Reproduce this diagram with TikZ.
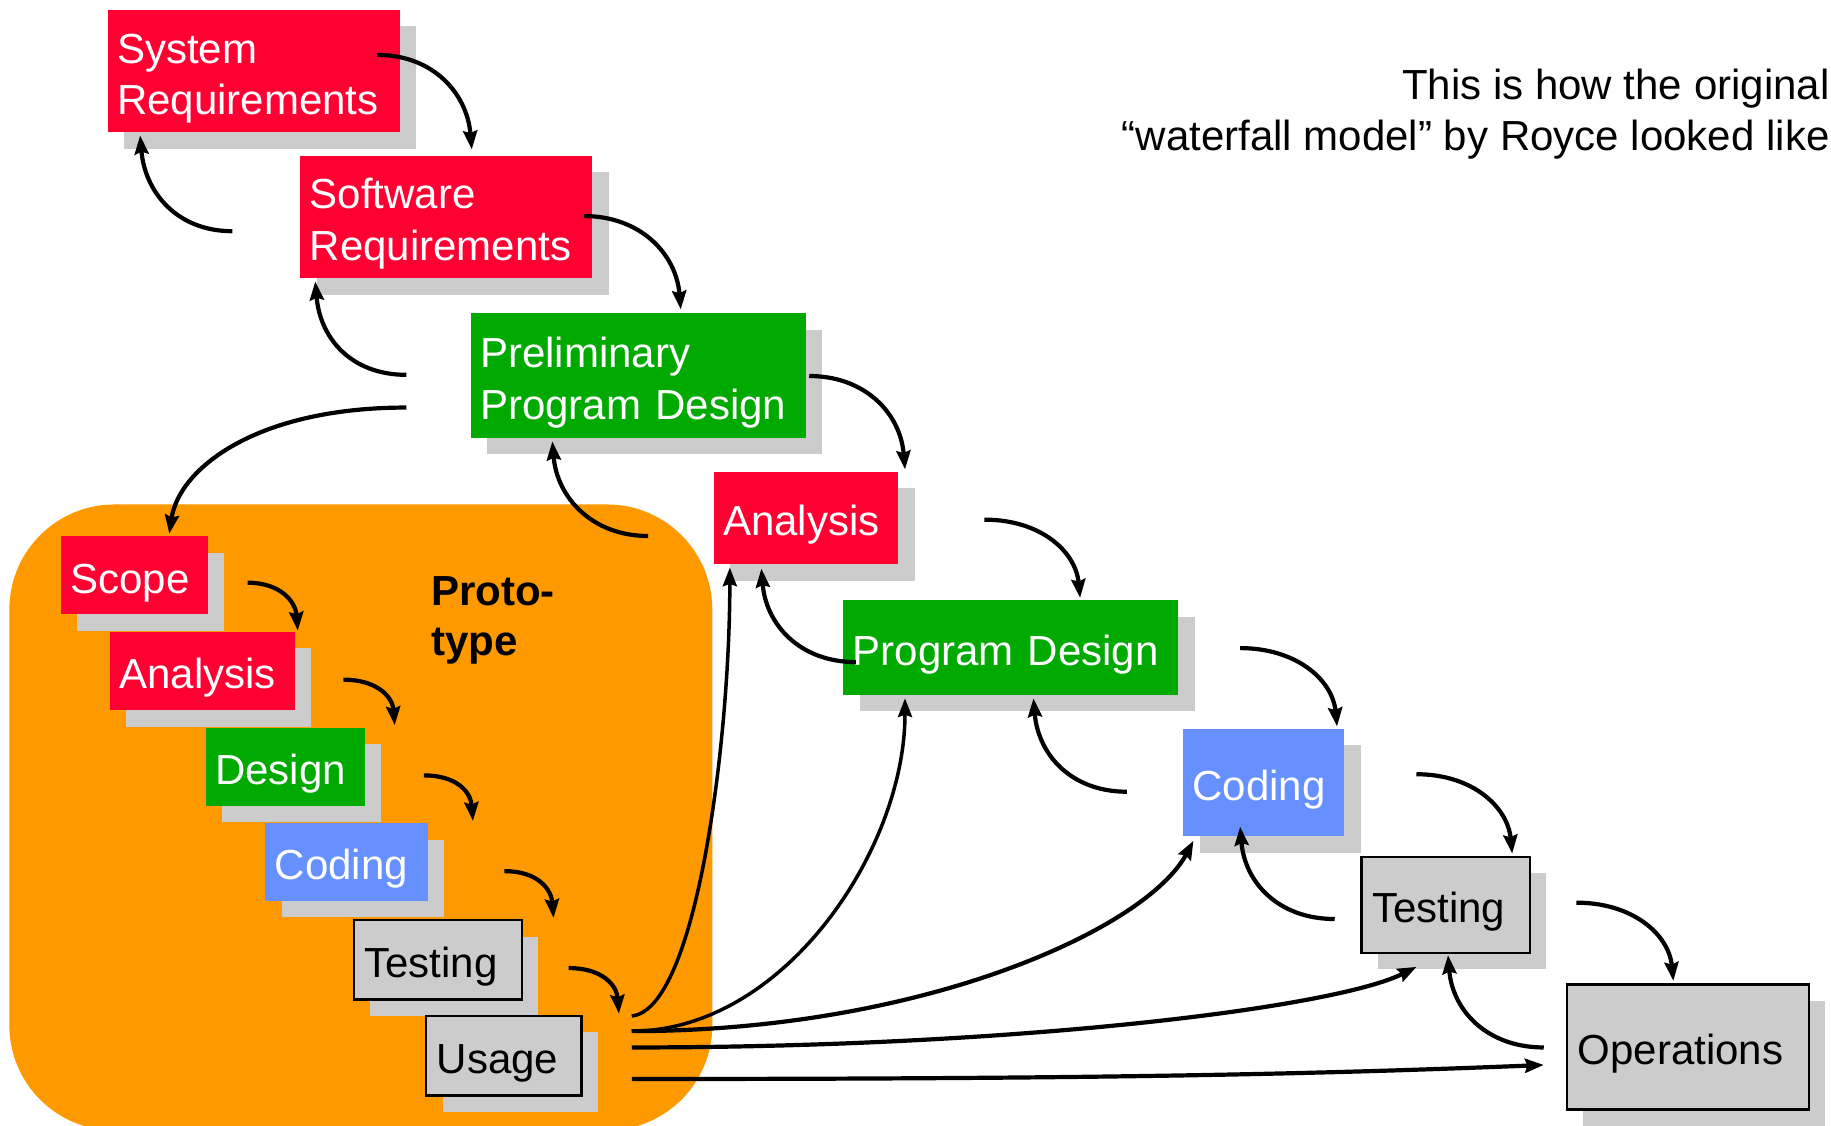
\documentclass[tikz,border=0pt]{standalone}
\usepackage{fontspec}
\setmainfont{Liberation Sans}
\usetikzlibrary{arrows.meta,calc,shadows}
\definecolor{wfred}{HTML}{FF0033}
\definecolor{wfgreen}{HTML}{00AA00}
\definecolor{wfblue}{HTML}{6690FF}
\definecolor{wfgray}{HTML}{CCCCCC}
\definecolor{wforange}{HTML}{FF9900}
\begin{document}
\begin{tikzpicture}[x=1pt,y=-1pt,
  every node/.style={font=\fontsize{36}{44}\selectfont},
  stage/.style={anchor=north west, inner xsep=8pt, inner ysep=0pt, align=left, text height=38pt,
    drop shadow={shadow xshift=14pt, shadow yshift=-14pt, fill=wfgray, opacity=1}},
  redbox/.style={stage, fill=wfred, text=white},
  greenbox/.style={stage, fill=wfgreen, text=white},
  bluebox/.style={stage, fill=wfblue, text=white},
  graybox/.style={stage, inner xsep=9pt, fill=wfgray, draw=black, line width=2pt, text=black},
  flow/.style={line width=3.6pt, -{Stealth[length=16pt,width=12pt,inset=2pt]}},
  thinflow/.style={flow, line width=3pt},
]
\useasboundingbox (0,0) rectangle (1568,964);
\fill[white] (0,0) rectangle (1568,964);
\fill[wforange, rounded corners=90pt] (8,432) rectangle (610,968);

% main waterfall
\node[redbox, text width=234pt, minimum height=105pt] (sysreq) at (92,8) {System\\Requirements};
\node[redbox, text width=234pt, minimum height=105pt] (swreq) at (257,133) {Software\\Requirements};
\node[greenbox, text width=271pt, minimum height=107pt] (prelim) at (403,268) {Preliminary\\Program Design};
\node[redbox, text width=142pt, minimum height=79pt] (analysis) at (611,404) {Analysis};
\node[greenbox, text width=271pt, minimum height=81pt] (progdes) at (722,514) {Program Design};
\node[bluebox, text width=122pt, minimum height=92pt] (coding) at (1013,624) {Coding};
\node[graybox, text width=126pt, minimum height=82pt] (testing) at (1165,733) {Testing};
\node[graybox, text width=189pt, minimum height=107pt] (ops) at (1341,842) {Operations};

% prototype
\node[redbox, text width=110pt, minimum height=67pt] (scope) at (52,459) {Scope};
\node[redbox, text width=142pt, minimum height=67pt] (ianalysis) at (94,541) {Analysis};
\node[greenbox, text width=120pt, minimum height=67pt] (design) at (176,623) {Design};
\node[bluebox, text width=123pt, minimum height=66pt] (icoding) at (227,705) {Coding};
\node[graybox, text width=126pt, minimum height=68pt] (itesting) at (302,787) {Testing};
\node[graybox, text width=115pt, minimum height=68pt] (usage) at (364,869) {Usage};

\node[anchor=west, inner sep=0pt, align=left, font=\fontsize{36}{43}\selectfont\bfseries] (proto) at (369,531) {Proto-\\type};

\node[anchor=east, inner sep=0pt, align=right] (title) at (1567,98) {This is how the original\\“waterfall model” by Royce looked like};

% forward arrows
\draw[flow] ($(sysreq.north west)+(231,39)$) .. controls +(48,0) and +(-4,-48) .. ($(swreq.north west)+(147,-5)$);
\draw[flow] ($(swreq.north west)+(243,52)$) .. controls +(48,0) and +(-4,-48) .. ($(prelim.north west)+(180,-3)$);
\draw[flow] ($(prelim.north west)+(290,54)$) .. controls +(48,0) and +(-4,-48) .. ($(analysis.north west)+(164,-2)$);
\draw[flow] ($(analysis.north west)+(232,41)$) .. controls +(48,0) and +(-4,-40) .. ($(progdes.north west)+(203,-2)$);
\draw[flow] ($(progdes.north west)+(340,41)$) .. controls +(48,0) and +(-4,-40) .. ($(coding.north west)+(132,-2)$);
\draw[flow] ($(coding.north west)+(200,39)$) .. controls +(48,0) and +(-4,-40) .. ($(testing.north west)+(130,-2)$);
\draw[flow] ($(testing.north west)+(185,40)$) .. controls +(48,0) and +(-4,-40) .. ($(ops.north west)+(92,-2)$);

% backward arrows
\draw[flow] ($(swreq.north west)+(-58,65)$) .. controls +(-48,0) and +(4,48) .. ($(sysreq.north west)+(28,108)$);
\draw[flow] ($(prelim.north west)+(-55,53)$) .. controls +(-48,0) and +(4,48) .. ($(swreq.north west)+(13,108)$);
\draw[flow] ($(analysis.north west)+(-56,55)$) .. controls +(-48,0) and +(4,48) .. ($(prelim.north west)+(70,110)$);
\draw[flow] ($(progdes.north west)+(11,53)$) .. controls +(-48,0) and +(4,48) .. ($(analysis.north west)+(41,83)$);
\draw[flow] ($(coding.north west)+(-48,54)$) .. controls +(-48,0) and +(4,48) .. ($(progdes.north west)+(163,84)$);
\draw[flow] ($(testing.north west)+(-22,54)$) .. controls +(-48,0) and +(4,48) .. ($(coding.north west)+(49,84)$);
\draw[flow] ($(ops.north west)+(-19,55)$) .. controls +(-48,0) and +(4,48) .. ($(testing.north west)+(75,85)$);

% into the prototype
\draw[flow] ($(prelim.north west)+(-55,81)$) .. controls +(-130,0) and +(8,-55) .. ($(scope.north west)+(93,-2)$);

% prototype steps
\draw[flow] ($(scope.north west)+(160,40)$) .. controls +(28,0) and +(-2,-25) .. ($(ianalysis.north west)+(161,-1)$);
\draw[flow] ($(ianalysis.north west)+(200,41)$) .. controls +(28,0) and +(-2,-25) .. ($(design.north west)+(162,-2)$);
\draw[flow] ($(design.north west)+(187,41)$) .. controls +(28,0) and +(-2,-25) .. ($(icoding.north west)+(178,-2)$);
\draw[flow] ($(icoding.north west)+(205,41)$) .. controls +(28,0) and +(-2,-25) .. ($(itesting.north west)+(172,-1)$);
\draw[flow] ($(itesting.north west)+(185,42)$) .. controls +(28,0) and +(-2,-25) .. ($(usage.north west)+(166,-1)$);

% from usage
\draw[thinflow] ($(usage.north west)+(177,1)$) .. controls +(55,-5) and +(0,150) .. ($(analysis.north west)+(14,82)$);
\draw[thinflow] ($(usage.north west)+(177,14)$) .. controls +(130,0) and +(0,130) .. ($(progdes.north west)+(53,84)$);
\draw[flow] ($(usage.north west)+(177,14)$) .. controls +(250,0) and +(-40,75) .. ($(coding.north west)+(9,96)$);
\draw[flow] ($(usage.north west)+(177,28)$) .. controls +(330,0) and +(-70,35) .. ($(testing.north west)+(48,95)$);
\draw[flow] ($(usage.north west)+(177,55)$) .. controls +(400,0) and +(-200,8) .. ($(ops.north west)+(-19,70)$);
\end{tikzpicture}
\end{document}
